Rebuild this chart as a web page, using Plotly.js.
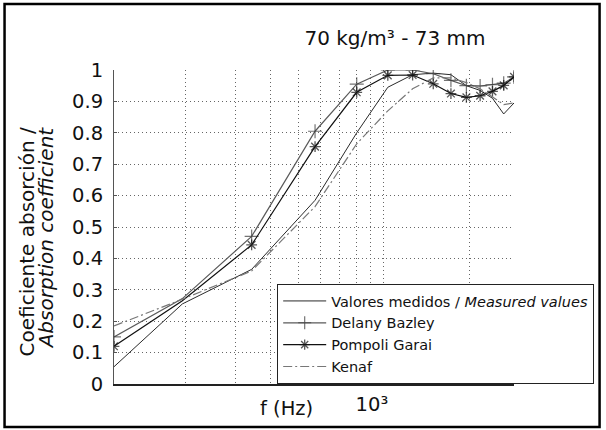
<!DOCTYPE html>
<html><head><meta charset="utf-8">
<script src="https://cdn.plot.ly/plotly-3.0.1.min.js"></script>
<style>html,body{margin:0;padding:0;background:#fff}#chart{width:606px;height:430px}</style>
</head><body><div id="chart"></div>
<script>
const freq = [112, 195, 342, 572, 802, 1032, 1262, 1492, 1722, 1952, 2182, 2412, 2642, 2872];
const measured = [0.055, 0.255, 0.365, 0.585, 0.80, 0.945, 0.985, 0.99, 0.985, 0.95, 0.935, 0.91, 0.86, 0.895];
const delanyBazley = [0.15, 0.272, 0.47, 0.805, 0.955, 1.0, 1.0, 0.988, 0.967, 0.95, 0.949, 0.953, 0.958, 0.978];
const pompoliGarai = [0.12, 0.265, 0.443, 0.756, 0.929, 0.983, 0.984, 0.956, 0.925, 0.913, 0.918, 0.932, 0.951, 0.978];
const kenaf = [0.185, 0.27, 0.36, 0.565, 0.765, 0.87, 0.94, 0.975, 0.975, 0.96, 0.94, 0.915, 0.89, 0.895];
const unmarkedFreqs = [195];
const seriesNames = ['Valores medidos / <i>Measured values</i>', 'Delany Bazley', 'Pompoli Garai', 'Kenaf'];
const xTickVals = [1000];
const xTickText = ['10³'];
const xMinorGridVals = [200, 300, 400, 500, 600, 700, 800, 900, 2000];
const yTickVals = [0, 0.1, 0.2, 0.3, 0.4, 0.5, 0.6, 0.7, 0.8, 0.9, 1];
const yTickText = ['0', '0.1', '0.2', '0.3', '0.4', '0.5', '0.6', '0.7', '0.8', '0.9', '1'];
const chartTitle = '70 kg/m³ - 73 mm';
const yTitle1 = 'Coeficiente absorción /';
const yTitle2 = 'Absorption coefficient';
const xTitle = 'f (Hz)';

const FONT = 'DejaVu Sans, Verdana, sans-serif';
const GRID = '#666';
const GRIDDASH = '1px,3px';
const markerSizes = s => freq.map(f => unmarkedFreqs.includes(f) ? 0 : s);

const traces = [
  {x: freq, y: measured, name: seriesNames[0], mode: 'lines',
   line: {color: '#2a2a2a', width: 1}},
  {x: freq, y: delanyBazley, name: seriesNames[1], mode: 'lines+markers',
   line: {color: '#5a5a5a', width: 1.2},
   marker: {symbol: 'cross-thin', size: markerSizes(10), color: '#3a3a3a', line: {width: 1.2, color: '#3a3a3a'}}},
  {x: freq, y: pompoliGarai, name: seriesNames[2], mode: 'lines+markers',
   line: {color: '#111111', width: 1.2},
   marker: {symbol: 'asterisk', size: markerSizes(9), color: '#111111', line: {width: 1.3, color: '#111111'}}},
  {x: freq, y: kenaf, name: seriesNames[3], mode: 'lines',
   line: {color: '#777777', width: 1.2, dash: '9px,3px,2px,3px'}}
];

const L = 114, R = 516, T = 70, B = 384, W = 606, H = 430;
const px = v => (v - L) / (R - L);
const py = v => (B - v) / (B - T);

const layout = {
  width: W, height: H,
  margin: {l: L, r: W - R, t: T, b: H - B, pad: 0},
  paper_bgcolor: '#fff', plot_bgcolor: '#fff',
  font: {family: FONT, color: '#111', size: 19},
  showlegend: true,
  title: {text: chartTitle, font: {family: FONT, size: 20, color: '#111'},
          xref: 'container', yref: 'container', x: 395 / W, y: 1 - 38 / H,
          xanchor: 'center', yanchor: 'middle'},
  xaxis: {type: 'log', range: [Math.log10(freq[0]), Math.log10(freq[freq.length - 1])],
          tickmode: 'array', tickvals: xTickVals, ticktext: xTickText,
          showgrid: true, gridcolor: GRID, griddash: GRIDDASH, gridwidth: 1,
          minor: {tickmode: 'array', tickvals: xMinorGridVals, showgrid: true,
                  gridcolor: GRID, griddash: GRIDDASH, gridwidth: 1, ticks: ''},
          showline: true, linecolor: '#222', linewidth: 1.5,
          ticks: '', zeroline: false, ticklabelshift: -12, ticklabelstandoff: 2,
          tickfont: {family: FONT, size: 19.5, color: '#111'}},
  yaxis: {range: [0, 1], tickmode: 'array', tickvals: yTickVals, ticktext: yTickText,
          showgrid: true, gridcolor: GRID, griddash: GRIDDASH, gridwidth: 1,
          showline: true, linecolor: '#555', linewidth: 1,
          ticks: 'inside', ticklen: 3, tickcolor: '#555',
          ticklabelstandoff: 6, zeroline: false,
          tickfont: {family: FONT, size: 19.5, color: '#111'}},
  legend: {x: px(278), y: 0, xanchor: 'left', yanchor: 'bottom',
           bgcolor: '#fff', bordercolor: '#222', borderwidth: 1,
           font: {family: FONT, size: 14.5, color: '#111'},
           tracegroupgap: 0, itemwidth: 43},
  annotations: [
    {text: yTitle1, xref: 'paper', yref: 'paper', x: px(27), y: py(242),
     xanchor: 'center', yanchor: 'middle', textangle: -90, showarrow: false,
     font: {family: FONT, size: 20, color: '#111'}},
    {text: yTitle2, xref: 'paper', yref: 'paper', x: px(46), y: py(238),
     xanchor: 'center', yanchor: 'middle', textangle: -90, showarrow: false,
     font: {family: FONT, size: 20, color: '#111', style: 'italic'}},
    {text: xTitle, xref: 'paper', yref: 'paper', x: px(287), y: py(408),
     xanchor: 'center', yanchor: 'middle', showarrow: false,
     font: {family: FONT, size: 19.5, color: '#111'}}
  ],
  shapes: [
    {type: 'rect', xref: 'paper', yref: 'paper', x0: px(4), x1: px(602), y0: py(427), y1: py(4),
     line: {color: '#000', width: 2.5}, fillcolor: 'rgba(0,0,0,0)', layer: 'above'}
  ]
};

Plotly.newPlot('chart', traces, layout, {staticPlot: true, displayModeBar: false});
</script>
</body></html>
